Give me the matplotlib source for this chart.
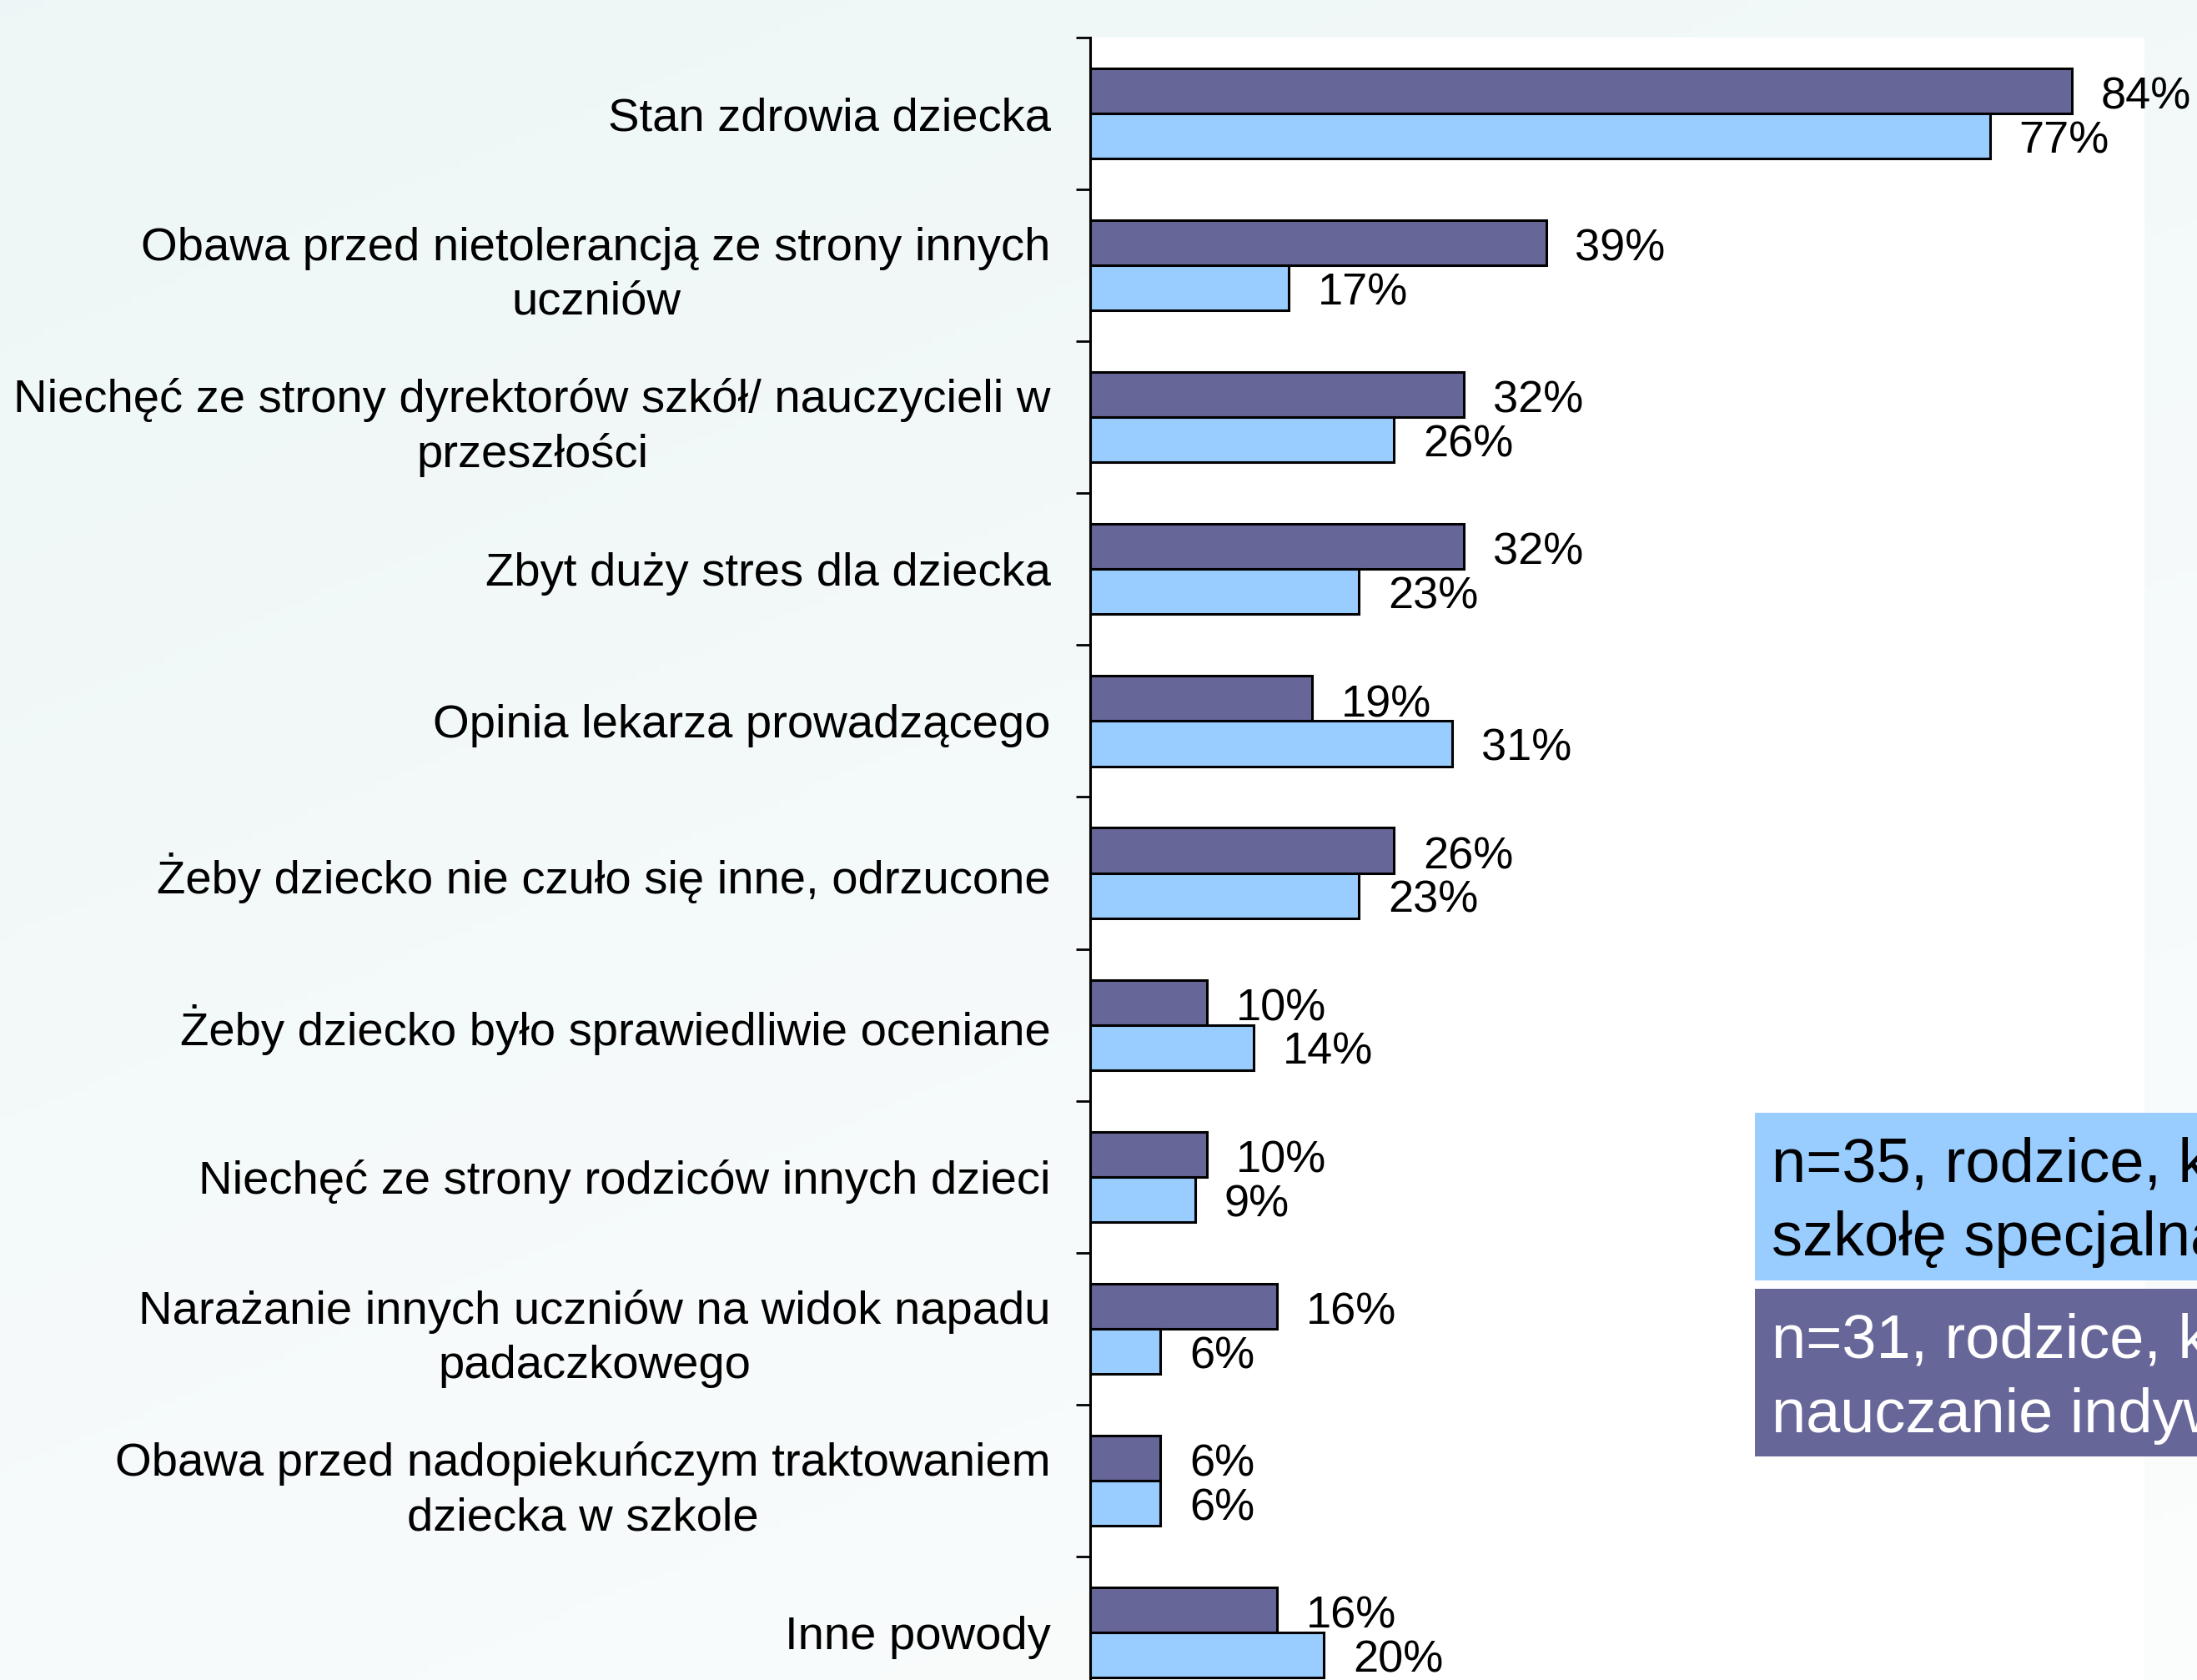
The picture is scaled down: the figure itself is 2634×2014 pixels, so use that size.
import numpy as np
import matplotlib
matplotlib.use("Agg")
import matplotlib.pyplot as plt
from matplotlib import font_manager as fm
from matplotlib.patches import Rectangle

categories = [
    "Stan zdrowia dziecka",
    "Obawa przed nietolerancją ze strony innych\nuczniów",
    "Niechęć ze strony dyrektorów szkół/ nauczycieli w\nprzeszłości",
    "Zbyt duży stres dla dziecka",
    "Opinia lekarza prowadzącego",
    "Żeby dziecko nie czuło się inne, odrzucone",
    "Żeby dziecko było sprawiedliwie oceniane",
    "Niechęć ze strony rodziców innych dzieci",
    "Narażanie innych uczniów na widok napadu\npadaczkowego",
    "Obawa przed nadopiekuńczym traktowaniem\ndziecka w szkole",
    "Inne powody",
]
indywidualne = [84, 39, 32, 32, 19, 26, 10, 10, 16, 6, 16]   # n=31
specjalna = [77, 17, 26, 23, 31, 23, 14, 9, 6, 6, 20]         # n=35
legend_special = "n=35, rodzice, którzy wybrali\nszkołę specjalną"
legend_indiv = "n=31, rodzice, którzy wybrali\nnauczanie indywidualne"

PURPLE = "#666699"
BLUE = "#99CCFF"

names = {f.name for f in fm.fontManager.ttflist}
narrow = "Liberation Sans Narrow" if "Liberation Sans Narrow" in names else "Liberation Sans"
narrow_size = 47 if narrow == "Liberation Sans Narrow" else 40.5

W, H = 2634, 2014
fig = plt.figure(figsize=(W / 100, H / 100), dpi=100)

# background gradient
bg = fig.add_axes([0, 0, 1, 1], zorder=-10)
yy, xx = np.mgrid[0:1:200j, 0:1:200j]
t = np.clip(0.65 * yy + 0.35 * xx, 0, 1)
top = np.array([0.933, 0.965, 0.965])
bot = np.array([0.988, 0.992, 0.992])
img = top[None, None, :] * (1 - t[..., None]) + bot[None, None, :] * t[..., None]
bg.imshow(img, aspect="auto", extent=[0, 1, 0, 1], origin="upper")
bg.set_axis_off()

left = 1307 / W
right = 2571 / W
top_px = 45
cat_px = 182.1
n = len(categories)
height_px = cat_px * n
ax = fig.add_axes([left, 1 - (top_px + height_px) / H, right - left, height_px / H])
ax.set_facecolor("white")

y = np.arange(n)
bh = 0.297
ax.barh(y - bh / 2, indywidualne, height=bh, color=PURPLE, edgecolor="black", linewidth=2.2, zorder=3)
ax.barh(y + bh / 2, specjalna, height=bh, color=BLUE, edgecolor="black", linewidth=2.2, zorder=3)

for i in range(n):
    ax.annotate(f"{indywidualne[i]}%", (indywidualne[i], y[i] - bh / 2), xytext=(25, -5.5),
                textcoords="offset points", ha="left", va="center",
                fontsize=39, family="Liberation Sans", zorder=5)
    ax.annotate(f"{specjalna[i]}%", (specjalna[i], y[i] + bh / 2), xytext=(25, -4.5),
                textcoords="offset points", ha="left", va="center",
                fontsize=39, family="Liberation Sans", zorder=5)

ax.set_xlim(0, 90.2)
ax.set_ylim(n - 0.5, -0.5)
for s in ["top", "right", "bottom"]:
    ax.spines[s].set_visible(False)
ax.spines["left"].set_linewidth(2.2)
ax.spines["left"].set_zorder(4)
ax.set_xticks([])
ax.set_yticks(y)
ax.set_yticklabels(categories)
ax.set_yticks(np.arange(-0.5, n, 1.0), minor=True)
ax.tick_params(axis="y", which="major", length=0, pad=34)
ax.tick_params(axis="y", which="minor", length=12, width=2, color="black")
for lab in ax.get_yticklabels():
    lab.set_fontfamily(narrow)
    lab.set_fontsize(narrow_size)
    lab.set_multialignment("center")
    lab.set_linespacing(1.32)

# legend boxes
fig.patches.append(Rectangle((2104 / W, 1 - 1535 / H), (W - 2104 + 50) / W, 201 / H,
                             transform=fig.transFigure, facecolor=BLUE, edgecolor="none", zorder=5))
fig.patches.append(Rectangle((2104 / W, 1 - 1746 / H), (W - 2104 + 50) / W, 201 / H,
                             transform=fig.transFigure, facecolor=PURPLE, edgecolor="none", zorder=5))
l1, l2 = legend_special.split("\n")
fig.text(2124 / W, 1 - 1417 / H, l1, fontsize=53.3, family="Liberation Sans", color="black", va="baseline", ha="left", zorder=6)
fig.text(2124 / W, 1 - 1505 / H, l2, fontsize=53.3, family="Liberation Sans", color="black", va="baseline", ha="left", zorder=6)
m1, m2 = legend_indiv.split("\n")
fig.text(2124 / W, 1 - 1628 / H, m1, fontsize=53.3, family="Liberation Sans", color="white", va="baseline", ha="left", zorder=6)
fig.text(2124 / W, 1 - 1717 / H, m2, fontsize=53.3, family="Liberation Sans", color="white", va="baseline", ha="left", zorder=6)

fig.savefig("out.png", dpi=100)
